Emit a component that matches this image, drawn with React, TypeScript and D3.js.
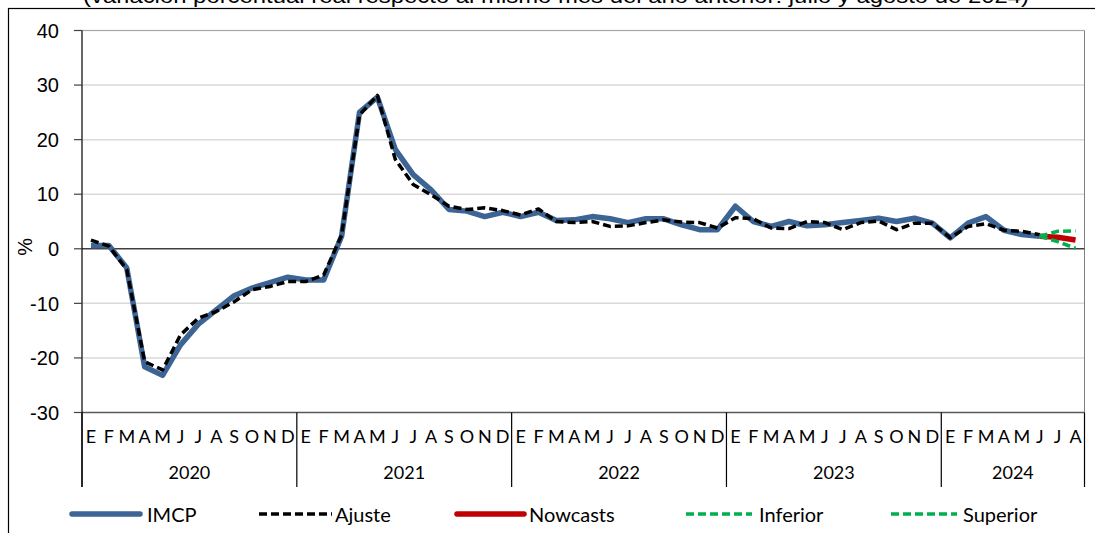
import * as d3 from 'd3';

// meses y años del eje de categorías
const monthNames = ['E', 'F', 'M', 'A', 'M', 'J', 'J', 'A', 'S', 'O', 'N', 'D'];
const years = ['2020', '2021', '2022', '2023', '2024'];
const monthsPerYear = [12, 12, 12, 12, 8];
const yTicks = [40, 30, 20, 10, 0, -10, -20, -30];

// IMCP observado (ene-2020 a jun-2024)
const imcp = [
  0.6, 0.6, -3.5, -21.6, -23.2, -17.6, -13.8, -11.2, -8.6, -7.2, -6.2, -5.2,
  -5.7, -5.7, 2.3, 25.0, 27.8, 18.2, 13.6, 10.8, 7.2, 6.9, 5.9, 6.7,
  5.9, 6.7, 5.2, 5.3, 5.9, 5.5, 4.8, 5.5, 5.5, 4.4, 3.5, 3.5,
  7.8, 5.0, 4.1, 5.0, 4.2, 4.4, 4.8, 5.2, 5.6, 5.0, 5.6, 4.7,
  2.0, 4.7, 5.9, 3.4, 2.6, 2.3,
];
// ajuste del modelo
const ajuste = [
  1.6, 0.5, -3.8, -20.7, -22.2, -15.8, -12.7, -11.5, -9.7, -7.5, -6.9, -6.0,
  -6.0, -4.8, 2.5, 24.5, 28.1, 16.4, 11.8, 9.9, 7.8, 7.2, 7.5, 7.0,
  6.2, 7.3, 5.0, 4.8, 5.0, 4.1, 4.2, 4.8, 5.3, 4.9, 4.8, 3.8,
  5.7, 5.5, 3.8, 3.7, 5.0, 4.8, 3.5, 4.8, 5.1, 3.5, 4.7, 4.7,
  2.0, 4.1, 4.6, 3.4, 3.2, 2.6,
];
// nowcasts e intervalos (jun, jul, ago 2024)
const nowcastStart = 53;
const nowcasts = [2.3, 2.1, 1.6];
const inferior = [2.3, 1.3, 0.1];
const superior = [2.3, 3.2, 3.3];

const legendItems = [
  { label: 'IMCP', color: '#3c6494', dash: '', width: 5.5, x0: 72, x1: 140, tx: 147 },
  { label: 'Ajuste', color: '#000000', dash: '8,4', width: 3.5, x0: 259, x1: 332, tx: 335 },
  { label: 'Nowcasts', color: '#c00000', dash: '', width: 5.5, x0: 457, x1: 524, tx: 529 },
  { label: 'Inferior', color: '#00b050', dash: '8,4', width: 3.5, x0: 686, x1: 752, tx: 759 },
  { label: 'Superior', color: '#00b050', dash: '8,4', width: 3.5, x0: 891, x1: 957, tx: 963 },
];

export default function App() {
  const left = 82;
  const right = 1084.5;
  const top = 30.5;
  const bottom = 412.5;
  const nMonths = d3.sum(monthsPerYear);

  const x = d3.scaleBand<number>()
    .domain(d3.range(nMonths))
    .range([left, right]);
  const y = d3.scaleLinear().domain([-30, 40]).range([bottom, top]);
  const cx = (i: number) => (x(i) ?? 0) + x.bandwidth() / 2;

  const line = d3.line<[number, number]>()
    .x(d => cx(d[0]))
    .y(d => y(d[1]));

  const series = (vals: number[], start = 0) =>
    line(vals.map((v, i) => [start + i, v] as [number, number])) ?? '';

  // límites de años
  const yearStarts: number[] = Array.from(d3.cumsum([0, ...monthsPerYear]));
  const monthLabels: { i: number; m: string }[] = [];
  monthsPerYear.forEach((n, k) => {
    for (let j = 0; j < n; j++) monthLabels.push({ i: yearStarts[k] + j, m: monthNames[j] });
  });
  const edge = (s: number) => (s < nMonths ? (x(s) ?? 0) : right);

  const fontArial = '"Liberation Sans", Arial, sans-serif';
  const fontCal = 'Lato, "Noto Sans", sans-serif';

  return (
    <div style={{ position: 'absolute', left: 0, top: 0, background: '#fff' }}>
      <svg width={1095} height={533} style={{ display: 'block' }}>
        <rect width={1095} height={533} fill="#fff" />
        {/* título recortado */}
        <text x={556} y={3} textAnchor="middle" fontFamily={fontArial} fontSize={20}
          textLength={946} lengthAdjust="spacingAndGlyphs" fill="#000">
          (variación porcentual real respecto al mismo mes del año anterior: julio y agosto de 2024)
        </text>
        {/* marco exterior */}
        <rect x={8.5} y={8.5} width={1100} height={540} fill="none" stroke="#000" strokeWidth={1.2} />

        {/* rejilla */}
        {yTicks.filter(t => t !== 0 && t !== -30).map(t => (
          <line key={t} x1={left} x2={right} y1={y(t)} y2={y(t)} stroke="#d9d9d9" strokeWidth={1.5} />
        ))}
        <line x1={right} x2={right} y1={top} y2={bottom} stroke="#808080" strokeWidth={1} />
        <line x1={left} x2={right} y1={top} y2={top} stroke="#a6a6a6" strokeWidth={1} />
        {/* eje cero y eje inferior */}
        <line x1={left} x2={right} y1={y(0)} y2={y(0)} stroke="#404040" strokeWidth={1.5} />
        <line x1={left} x2={right} y1={bottom} y2={bottom} stroke="#595959" strokeWidth={1.5} />

        {/* eje y */}
        <line x1={left} x2={left} y1={top} y2={487} stroke="#000" strokeWidth={1.2} />
        {yTicks.map(t => (
          <g key={t}>
            <line x1={74} x2={left} y1={y(t)} y2={y(t)} stroke="#404040" strokeWidth={1.2} />
            <text x={59} y={y(t)} dy="0.36em" textAnchor="end" fontFamily={fontArial} fontSize={20} fill="#000">
              {t}
            </text>
          </g>
        ))}
        <text transform={`translate(32,${y(0) - 2}) rotate(-90)`} textAnchor="middle"
          fontFamily={fontArial} fontSize={20} fill="#000">%</text>

        {/* eje de categorías */}
        {yearStarts.map((s, k) => (
          <line key={k} x1={edge(s)} x2={edge(s)} y1={bottom} y2={487} stroke="#000" strokeWidth={1.2} />
        ))}
        {monthLabels.map(d => (
          <text key={d.i} x={cx(d.i)} y={443} textAnchor="middle" fontFamily={fontCal} fontSize={18} fill="#000">
            {d.m}
          </text>
        ))}
        {years.map((yr, k) => (
          <text key={yr} x={(edge(yearStarts[k]) + edge(yearStarts[k + 1])) / 2} y={479}
            textAnchor="middle" fontFamily={fontCal} fontSize={18} fill="#000">
            {yr}
          </text>
        ))}

        {/* series */}
        <path d={series(imcp)} fill="none" stroke="#3c6494" strokeWidth={5.5} strokeLinejoin="round" />
        <path d={series(ajuste)} fill="none" stroke="#000" strokeWidth={3.5} strokeDasharray="8,4" strokeLinejoin="round" />
        <path d={series(nowcasts, nowcastStart)} fill="none" stroke="#c00000" strokeWidth={5.5} strokeLinejoin="round" />
        <path d={series(inferior, nowcastStart)} fill="none" stroke="#00b050" strokeWidth={3.5} strokeDasharray="8,4" />
        <path d={series(superior, nowcastStart)} fill="none" stroke="#00b050" strokeWidth={3.5} strokeDasharray="8,4" />

        {/* leyenda */}
        {legendItems.map(it => (
          <g key={it.label}>
            <line x1={it.x0} x2={it.x1} y1={514} y2={514} stroke={it.color} strokeWidth={it.width}
              strokeDasharray={it.dash || undefined} strokeLinecap={it.dash ? 'butt' : 'round'} />
            <text x={it.tx} y={522} fontFamily={fontCal} fontSize={20} fill="#000">{it.label}</text>
          </g>
        ))}
      </svg>
    </div>
  );
}
